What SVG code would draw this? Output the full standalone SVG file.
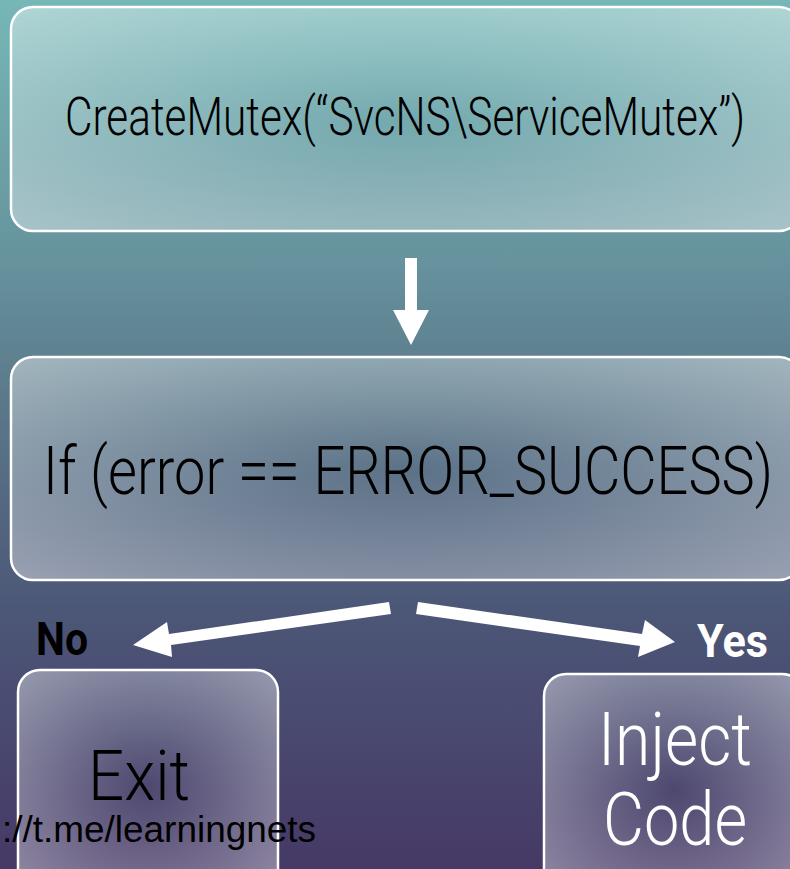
<svg xmlns="http://www.w3.org/2000/svg" width="790" height="869" viewBox="0 0 790 869">
<defs>
<linearGradient id="bg" x1="0" y1="0" x2="0" y2="1">
<stop offset="0" stop-color="#76b7b7"/>
<stop offset="0.3" stop-color="#66939d"/>
<stop offset="0.45" stop-color="#5c7a8b"/>
<stop offset="0.7" stop-color="#4c5777"/>
<stop offset="1" stop-color="#463966"/>
</linearGradient>
<radialGradient id="box" cx="0.5" cy="0.5" r="0.75">
<stop offset="0" stop-color="#ffffff" stop-opacity="0.03"/>
<stop offset="1" stop-color="#ffffff" stop-opacity="0.45"/>
</radialGradient>
<style>
.box{fill:url(#box);stroke:#ffffff;stroke-width:2.5}
.cond{font-family:Roboto,"Liberation Sans",sans-serif;font-weight:300}
.lbl{font-family:Roboto,"Liberation Sans",sans-serif;font-weight:700;font-size:46px}
.arrow{fill:#ffffff}
</style>
</defs>
<rect width="790" height="869" fill="url(#bg)"/>
<g id="node-create">
<rect class="box" x="11" y="7" width="790" height="224" rx="22"/>
<text class="cond" x="65" y="135" font-size="54" textLength="680" lengthAdjust="spacingAndGlyphs" fill="#000">CreateMutex(“SvcNS\ServiceMutex”)</text>
</g>
<g id="node-if">
<rect class="box" x="11" y="357" width="790" height="223" rx="22"/>
<text class="cond" x="43" y="494" font-size="67" textLength="730" lengthAdjust="spacingAndGlyphs" fill="#000">If (error == ERROR_SUCCESS)</text>
</g>
<g id="node-exit">
<rect class="box" x="18" y="670" width="260" height="230" rx="22"/>
<text class="cond" x="88" y="800" font-size="70" textLength="102" lengthAdjust="spacingAndGlyphs" fill="#000">Exit</text>
</g>
<g id="node-inject">
<rect class="box" x="544" y="674" width="260" height="230" rx="22"/>
<text class="cond" x="598" y="765" font-size="74" textLength="154" lengthAdjust="spacingAndGlyphs" fill="#fff">Inject</text>
<text class="cond" x="603" y="845" font-size="74" textLength="144" lengthAdjust="spacingAndGlyphs" fill="#fff">Code</text>
</g>
<g id="connectors">
<polygon class="arrow" points="405,258 417,258 417,310 429,310 411,345 393,310 405,310"/>
<polygon class="arrow" points="389,602 391,614 171,645 172,657 133,645 167,622 169,634"/>
<polygon class="arrow" points="418,602 416,614 640,646 638,657 675,642 645,620 642,634"/>
<text class="lbl" x="36" y="655" textLength="52" lengthAdjust="spacingAndGlyphs" fill="#000">No</text>
<text class="lbl" x="697" y="657" textLength="71" lengthAdjust="spacingAndGlyphs" fill="#fff">Yes</text>
</g>
<text x="2" y="842" font-family="'Liberation Sans',Arial,sans-serif" font-size="36" textLength="314" lengthAdjust="spacingAndGlyphs" fill="#000">://t.me/learningnets</text>
</svg>
